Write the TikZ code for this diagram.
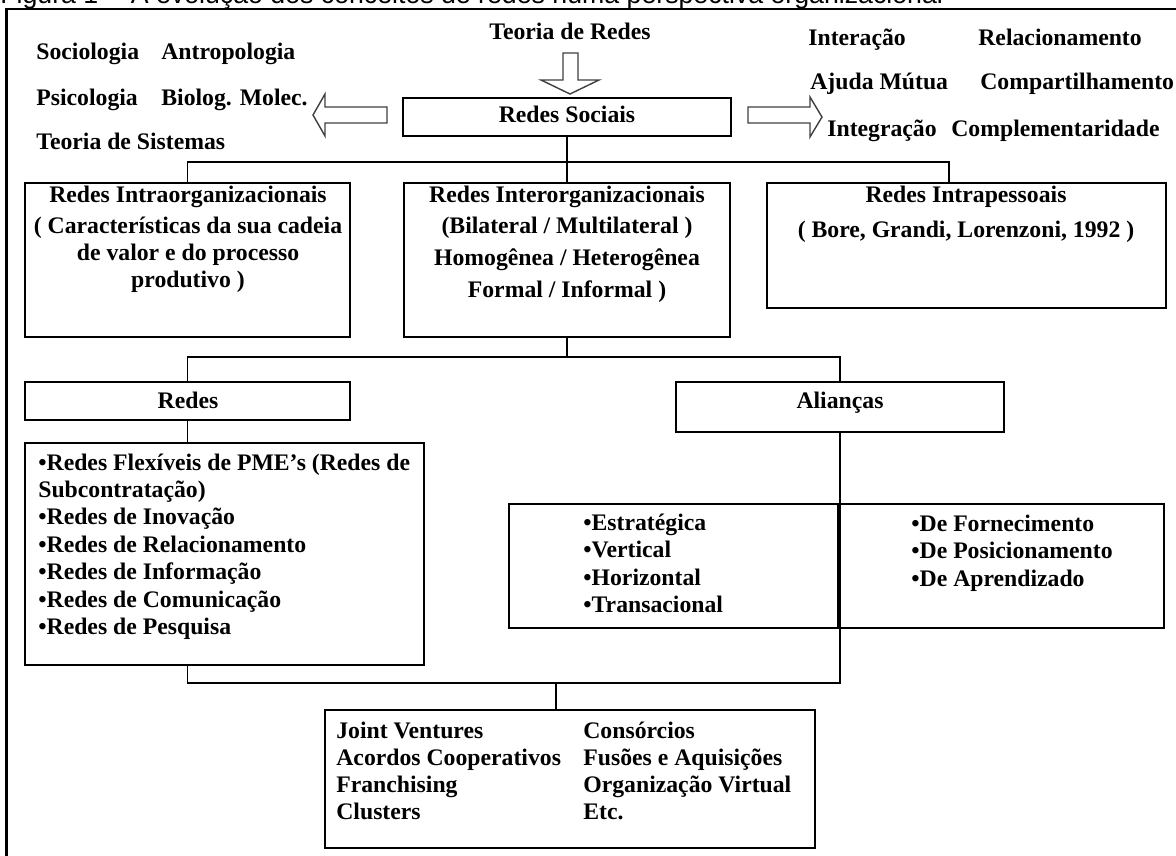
\documentclass[tikz,border=0pt]{standalone}
\usepackage{fontspec}
\setmainfont{Liberation Serif}
\newfontfamily\capfont{Liberation Sans}
\usetikzlibrary{fit}

\begin{document}
\begin{tikzpicture}[x=0.02cm, y=-0.02cm,
	box/.style={draw, line width=1.1pt, inner sep=0pt},
	lbl/.style={inner sep=0pt, anchor=base, font=\bfseries\fontsize{13.5}{16}\selectfont},
	item/.style={lbl, anchor=base west},
	link/.style={line width=1.1pt},
	hollow/.style={draw=black!75, line width=0.8pt, fill=white, line join=miter}]
	\useasboundingbox (0,0) rectangle (1176,855);
	\clip (0,0) rectangle (1176,855);

	% legenda cortada e moldura
	\node[anchor=base west, inner sep=0pt, font=\capfont\fontsize{15.2}{17}\selectfont] (legenda) at (0,4)
	{Figura 1 -- A evolução dos conceitos de redes numa perspectiva organizacional};
	\draw[line width=1.7pt] (6.5,900) |- (1200,9);

	% topo
	\node[lbl] (teoria) at (570,40) {Teoria de Redes};
	\draw[hollow] (563,53) -- (578,53) -- (578,80) -- (599,80) -- (570,94) -- (541,80) -- (563,80) -- cycle;
	\node[item] (socio) at (36,60) {Sociologia};
	\node[item] (antro) at (161,60) {Antropologia};
	\node[item] (psico) at (36,106) {Psicologia};
	\node[item] (bio) at (161,106) {Biolog. Molec.};
	\node[item] (sist) at (36,150) {Teoria de Sistemas};
	\node[item] (interacao) at (808,46) {Interação};
	\node[item] (relac) at (978,46) {Relacionamento};
	\node[item] (ajuda) at (810,90) {Ajuda Mútua};
	\node[item] (compart) at (980,90) {Compartilhamento};
	\node[item] (integ) at (827,136) {Integração};
	\node[item] (complem) at (951,136) {Complementaridade};
	\draw[hollow] (387,107) -- (325,107) -- (325,94) -- (313,115) -- (325,136) -- (325,123) -- (387,123) -- cycle;
	\draw[hollow] (748,107) -- (810,107) -- (810,97) -- (822,117) -- (810,137) -- (810,123) -- (748,123) -- cycle;

	\node[box, fit={(403,98) (731,136)}] (sociais) {};
	\node[lbl] (sociaisT) at (567,123) {Redes Sociais};

	% nivel 1
	\node[box, fit={(25,183) (350,337)}] (intra) {};
	\node[box, fit={(404,183) (730,337)}] (inter) {};
	\node[box, fit={(767,183) (1166,308)}] (pess) {};
	\node[lbl] (intraT) at (188,202) {Redes Intraorganizacionais};
	\node[lbl] (intraA) at (188,233) {( Características da sua cadeia};
	\node[lbl] (intraB) at (188,260) {de valor e do processo};
	\node[lbl] (intraC) at (188,287) {produtivo )};
	\node[lbl] (interT) at (567,202) {Redes Interorganizacionais};
	\node[lbl] (interA) at (567,233) {(Bilateral / Multilateral )};
	\node[lbl] (interB) at (567,265) {Homogênea / Heterogênea};
	\node[lbl] (interC) at (567,297) {Formal / Informal )};
	\node[lbl] (pessT) at (966,202) {Redes Intrapessoais};
	\node[lbl] (pessA) at (966,237) {( Bore, Grandi, Lorenzoni, 1992 )};

	\coordinate (hub1) at (567,162);
	\coordinate (pessIn) at (949,183);
	\draw[link] (sociais.south) -- (inter.north);
	\draw[link] (intra.north) |- (hub1) -| (pessIn);

	% nivel 2
	\node[box, fit={(25,382) (350,420)}] (redes) {};
	\node[box, fit={(676,382) (1004,432)}] (alian) {};
	\node[lbl] (redesT) at (188,408) {Redes};
	\node[lbl] (alianT) at (840,408) {Alianças};
	\coordinate (hub2) at (567,357);
	\draw[link] (inter.south) -- (hub2);
	\draw[link] (redes.north) |- (hub2) -| (alian.north);

	\node[box, fit={(25,443) (424,665)}] (lista) {};
	\foreach \t [count=\i from 0] in {{•Redes Flexíveis de PME's (Redes de}, {Subcontratação)},
		{•Redes de Inovação}, {•Redes de Relacionamento}, {•Redes de Informação},
		{•Redes de Comunicação}, {•Redes de Pesquisa}}
		\node[item] (rl\i) at (38,{470+27.4*\i}) {\t};

	\node[box, fit={(509,504) (838,628)}] (tipos) {};
	\node[box, fit={(838,504) (1164,628)}] (fins) {};
	\foreach \t [count=\i from 0] in {•Estratégica, •Vertical, •Horizontal, •Transacional}
		\node[item] (tp\i) at (583,{530+27.6*\i}) {\t};
	\foreach \t [count=\i from 0] in {•De Fornecimento, •De Posicionamento, •De Aprendizado}
		\node[item] (fn\i) at (911,{531+27.8*\i}) {\t};

	% nivel 3
	\node[box, fit={(325,710) (815,848)}] (outros) {};
	\foreach \a/\b [count=\i from 0] in {Joint Ventures/Consórcios, Acordos Cooperativos/Fusões e Aquisições,
		Franchising/Organização Virtual, Clusters/Etc.}
		{\node[item] (oa\i) at (336,{738+27.3*\i}) {\a};
		 \node[item] (ob\i) at (583,{738+27.3*\i}) {\b};}

	\coordinate (hub3) at (556,683);
	\draw[link] (redes.south) -- (redes.south |- lista.north);
	\draw[link] (redes.south |- lista.south) |- (hub3) -| (alian.south);
	\draw[link] (hub3) -- (hub3 |- outros.north);
\end{tikzpicture}
\end{document}
